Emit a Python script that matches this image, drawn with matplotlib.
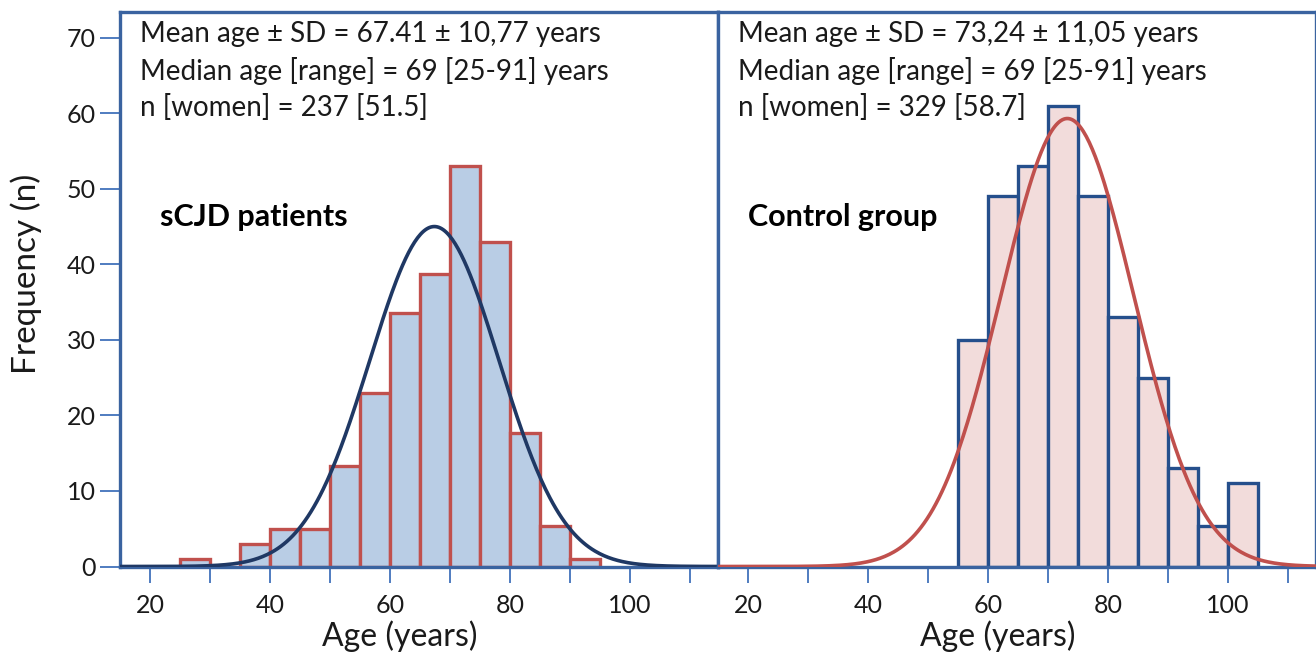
import numpy as np
import matplotlib.pyplot as plt

plt.rcParams['font.family'] = ['Lato', 'DejaVu Sans']

# histogram bins (left edge, width 5 years)
scjd_bins = [25, 30, 35, 40, 45, 50, 55, 60, 65, 70, 75, 80, 85, 90]
scjd_counts = [1, 0, 3, 5, 5, 13.3, 23, 33.5, 38.7, 53, 43, 17.7, 5.3, 1]
ctrl_bins = [55, 60, 65, 70, 75, 80, 85, 90, 95, 100]
ctrl_counts = [30, 49, 53, 61, 49, 33, 25, 13, 5.3, 11]

# fitted normal curves (mean, sd, peak height)
scjd_fit = (67.41, 10.77, 45)
ctrl_fit = (73.24, 11.05, 59.3)

scjd_text = ['Mean age \u00b1 SD = 67.41 \u00b1 10,77 years',
             'Median age [range] = 69 [25-91] years',
             'n [women] = 237 [51.5]']
ctrl_text = ['Mean age \u00b1 SD = 73,24 \u00b1 11,05 years',
             'Median age [range] = 69 [25-91] years',
             'n [women] = 329 [58.7]']

frame = '#3a63a0'
red = '#c0504d'
navy = '#1f3864'
dark_blue = '#254f8c'
txt = '#1a1a1a'

fig = plt.figure(figsize=(13.16, 6.57), dpi=100)
ax1 = fig.add_axes([120 / 1316, 90.5 / 657, 598 / 1316, 554.5 / 657])
ax2 = fig.add_axes([718 / 1316, 90.5 / 657, 598 / 1316, 554.5 / 657])

xs = np.linspace(15, 115, 400)

panels = [
    (ax1, scjd_bins, scjd_counts, '#b9cde5', red, scjd_fit, navy, scjd_text, 'sCJD patients'),
    (ax2, ctrl_bins, ctrl_counts, '#f2dcdb', dark_blue, ctrl_fit, red, ctrl_text, 'Control group'),
]

for ax, bins, counts, fill, edge, fit, curve_col, lines, title in panels:
    ax.bar(bins, counts, width=5, align='edge', color=fill, edgecolor=edge, linewidth=2.4, zorder=2)
    mu, sd, peak = fit
    ax.plot(xs, peak * np.exp(-0.5 * ((xs - mu) / sd) ** 2), color=curve_col, lw=2.6, zorder=3)
    ax.set_xlim(15, 114.7)
    ax.set_ylim(0, 73.4)
    for s in ax.spines.values():
        s.set_color(frame)
        s.set_linewidth(2.4)
    ax.set_xticks(range(20, 111, 10))
    ax.set_xticklabels(['20', '', '40', '', '60', '', '80', '', '100', ''])
    ax.tick_params(axis='x', direction='out', length=11.5, width=1.4, color='#4f7cc0',
                   labelsize=18, labelcolor=txt, pad=8)
    ax.set_xlabel('Age (years)', fontsize=23, color=txt)
    ax.xaxis.set_label_coords(0.468, -0.097)
    for i, line in enumerate(lines):
        ax.text(20 / 598, 1 - (22 + 37 * i) / 554.5, line, transform=ax.transAxes,
                fontsize=20, color=txt, va='center', ha='left')
    ax.text(40 / 598 if ax is ax1 else 30 / 598, 1 - 205 / 554.5, title, transform=ax.transAxes,
            fontsize=22, fontweight='bold', color='black', va='center', ha='left')

ax1.set_yticks(range(0, 71, 10))
ax1.tick_params(axis='y', direction='out', length=14.5, width=1.4, color='#4f7cc0',
                labelsize=18, labelcolor=txt, pad=3)
ax1.set_ylabel('Frequency (n)', fontsize=24, color=txt)
ax1.yaxis.set_label_coords(-0.13, 0.527)
ax2.set_yticks([])

fig.savefig('out.png', dpi=100)
